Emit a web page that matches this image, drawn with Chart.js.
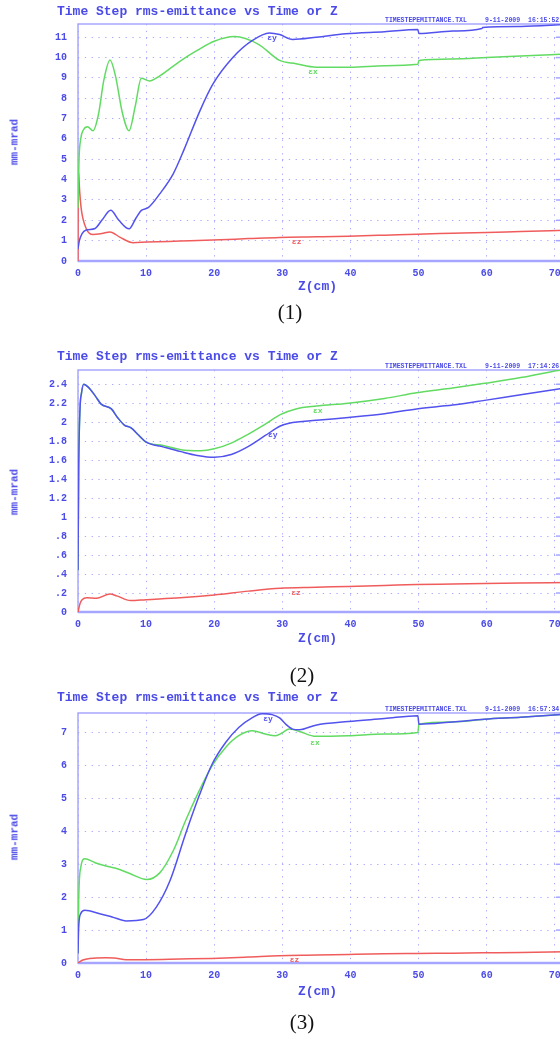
<!DOCTYPE html>
<html>
<head>
<meta charset="utf-8">
<script src="https://cdn.jsdelivr.net/npm/chart.js@4.4.1/dist/chart.umd.min.js"></script>
<style>
  html, body { margin: 0; padding: 0; background: #fff; }
  body { width: 560px; height: 1037px; position: relative; overflow: hidden; }
  .t { position: absolute; white-space: nowrap; line-height: 1;
       font-family: "Liberation Mono", "DejaVu Sans Mono", monospace; font-weight: bold; color: #4b4be8; }
  .cap { position: absolute; white-space: nowrap; line-height: 1;
         font-family: "Liberation Serif", "DejaVu Serif", serif; font-size: 21px; color: #111; }
</style>
</head>
<body>
<script>
// z axis (cm) and tick labels
const zTicks = [0, 10, 20, 30, 40, 50, 60, 70];
const Z_MAX = 71.5;

// ---- figure (1) ----
const yTicks1 = [0, 1, 2, 3, 4, 5, 6, 7, 8, 9, 10, 11];
const epsY1_z = [0, 0.2, 0.6, 1.2, 2.5, 3.5, 4.8, 6, 7.5, 8.5, 9.3, 10.3, 12, 14, 15.6, 17.9, 19.8, 22.7, 25.6, 28.1, 29.6, 31.5, 35, 39.3, 45, 49.9, 50.05, 55, 59.3, 59.4, 65, 71.5];
const epsY1   = [0.6, 1.0, 1.35, 1.52, 1.6, 2.0, 2.49, 2.0, 1.58, 2.1, 2.49, 2.62, 3.3, 4.3, 5.5, 7.38, 8.69, 9.99, 10.84, 11.21, 11.13, 10.89, 11.0, 11.17, 11.27, 11.38, 11.18, 11.3, 11.43, 11.48, 11.53, 11.62];
const epsX1_z = [0, 0.15, 0.4, 0.8, 1.4, 2.2, 3.0, 3.8, 4.7, 5.5, 6.5, 7.5, 8.4, 9.3, 10.5, 12, 15, 17.5, 20, 23, 26.5, 29.6, 32, 35, 40, 45, 49.9, 50.05, 55, 60, 65, 71.5];
const epsX1   = [2.6, 5.0, 6.0, 6.45, 6.6, 6.4, 7.2, 8.9, 9.88, 9.1, 7.3, 6.4, 7.6, 8.98, 8.85, 9.1, 9.83, 10.35, 10.8, 11.03, 10.65, 9.86, 9.7, 9.53, 9.53, 9.6, 9.67, 9.86, 9.93, 10.0, 10.08, 10.17];
const epsZ1_z = [0, 0.05, 0.25, 0.5, 1.2, 2.2, 3.5, 4.7, 6.2, 8.1, 10.1, 15, 19.8, 25, 29.6, 35, 39.7, 45, 49.8, 55, 60, 65, 71.5];
const epsZ1   = [0, 4.45, 3.4, 2.5, 1.6, 1.3, 1.35, 1.43, 1.16, 0.9, 0.93, 0.98, 1.03, 1.1, 1.16, 1.19, 1.22, 1.27, 1.32, 1.36, 1.4, 1.45, 1.51];

// ---- figure (2) ----
const yTicks2 = [0, 0.2, 0.4, 0.6, 0.8, 1, 1.2, 1.4, 1.6, 1.8, 2, 2.2, 2.4];
const epsY2_z = [0, 0.1, 0.3, 0.5, 0.83, 1.5, 2.5, 3.4, 4.9, 5.8, 6.8, 7.8, 8.8, 10, 12.5, 15.1, 17.5, 20, 22.5, 24.9, 27.5, 29.7, 31, 35, 39.7, 45, 49.7, 55, 59.7, 65, 71.5];
const epsY2   = [0.44, 1.5, 2.15, 2.3, 2.4, 2.37, 2.28, 2.19, 2.14, 2.05, 1.97, 1.94, 1.87, 1.79, 1.74, 1.69, 1.65, 1.63, 1.66, 1.74, 1.86, 1.96, 1.99, 2.02, 2.05, 2.09, 2.14, 2.18, 2.23, 2.29, 2.36];
const epsX2_z = [0, 0.1, 0.3, 0.5, 0.83, 1.5, 2.5, 3.4, 4.9, 5.8, 6.8, 7.8, 8.8, 10, 12.5, 15.1, 18, 20, 22.5, 24.9, 27.5, 29.7, 32, 35, 39.7, 45, 49.7, 55, 59.7, 65, 71.5];
const epsX2   = [0.44, 1.5, 2.15, 2.3, 2.4, 2.37, 2.28, 2.19, 2.14, 2.05, 1.97, 1.94, 1.87, 1.79, 1.755, 1.71, 1.70, 1.72, 1.78, 1.87, 1.98, 2.08, 2.14, 2.17, 2.2, 2.25, 2.31, 2.36, 2.41, 2.47, 2.56];
const epsZ2_z = [0, 0.3, 0.6, 1.3, 2.7, 4.7, 5.7, 7.7, 10, 15, 20, 25, 29.7, 35, 39.7, 45, 49.7, 55, 59.7, 65, 71.5];
const epsZ2   = [0, 0.09, 0.13, 0.15, 0.145, 0.19, 0.17, 0.12, 0.13, 0.15, 0.18, 0.22, 0.25, 0.26, 0.27, 0.28, 0.29, 0.295, 0.3, 0.305, 0.31];

// ---- figure (3) ----
const yTicks3 = [0, 1, 2, 3, 4, 5, 6, 7];
const epsY3_z = [0, 0.1, 0.4, 1.0, 3.2, 5, 7.1, 9.6, 11.5, 13.5, 15.8, 17.8, 19.7, 21.7, 23.6, 25.6, 27, 28.5, 29.6, 30.5, 31.5, 32.5, 34.9, 39.7, 45, 49.9, 50.05, 55, 59.7, 65, 71.5];
const epsY3   = [0.29, 1.1, 1.5, 1.6, 1.5, 1.4, 1.28, 1.32, 1.7, 2.5, 3.93, 5.09, 6.05, 6.71, 7.16, 7.46, 7.58, 7.55, 7.45, 7.26, 7.11, 7.09, 7.23, 7.34, 7.43, 7.52, 7.26, 7.33, 7.41, 7.47, 7.56];
const epsX3_z = [0, 0.1, 0.4, 1.0, 2.5, 4.1, 6, 7.6, 10.1, 12, 14, 15.8, 17.8, 19.7, 21.7, 23.6, 25.6, 27.5, 29, 30, 31, 32.5, 34.9, 39.7, 45, 49.9, 50.05, 55, 59.7, 65, 71.5];
const epsX3   = [0.3, 1.9, 2.9, 3.17, 3.05, 2.95, 2.85, 2.72, 2.54, 2.74, 3.42, 4.33, 5.24, 6.0, 6.56, 6.91, 7.06, 6.96, 6.91, 7.0, 7.11, 7.04, 6.89, 6.91, 6.96, 7.01, 7.26, 7.33, 7.41, 7.47, 7.56];
const epsZ3_z = [0, 0.7, 1.7, 4.1, 5.3, 7.1, 10, 15, 19.7, 25, 29.5, 35, 39.7, 45, 49.7, 55, 60, 65, 71.5];
const epsZ3   = [0, 0.09, 0.14, 0.16, 0.15, 0.1, 0.1, 0.12, 0.14, 0.18, 0.22, 0.24, 0.26, 0.28, 0.29, 0.3, 0.31, 0.32, 0.34];

const BLUE = '#5252ee', GREEN = '#62db62', RED = '#f05c5c';
const TXT = '#4b4be8', GRID = '#a8a8ff', AXIS = '#a6a6ff';
const MONO = '"Liberation Mono", "DejaVu Sans Mono", monospace';

const panels = [
  { plotTop: 24, plotBottom: 261, yMax: 11.65, yTicks: yTicks1, title: 12, stamp: '16:15:52', ylab: 142, zlab: 287, cap: '(1)', capX: 290, capY: 312,
    series: [[epsY1_z, epsY1, BLUE], [epsX1_z, epsX1, GREEN], [epsZ1_z, epsZ1, RED]],
    labels: [[28.5, 10.96, 'εy', BLUE], [34.5, 9.3, 'εx', GREEN], [32.1, 0.93, 'εz', RED]] },
  { plotTop: 370, plotBottom: 612, yMax: 2.55, yTicks: yTicks2, title: 357, stamp: '17:14:26', ylab: 492, zlab: 639, cap: '(2)', capX: 302, capY: 675,
    series: [[epsY2_z, epsY2, BLUE], [epsX2_z, epsX2, GREEN], [epsZ2_z, epsZ2, RED]],
    labels: [[28.6, 1.86, 'εy', BLUE], [35.2, 2.12, 'εx', GREEN], [32, 0.2, 'εz', RED]] },
  { plotTop: 713, plotBottom: 963, yMax: 7.6, yTicks: yTicks3, title: 698, stamp: '16:57:34', ylab: 837, zlab: 992, cap: '(3)', capX: 302, capY: 1022,
    series: [[epsY3_z, epsY3, BLUE], [epsX3_z, epsX3, GREEN], [epsZ3_z, epsZ3, RED]],
    labels: [[27.9, 7.42, 'εy', BLUE], [34.8, 6.7, 'εx', GREEN], [31.8, 0.09, 'εz', RED]] }
];

function addText(cls, text, css) {
  const d = document.createElement('div');
  d.className = cls;
  d.textContent = text;
  d.style.cssText = css;
  document.body.appendChild(d);
}

// frame round the plot + short ticks on right side
const frame = {
  id: 'frame',
  beforeDatasetsDraw(chart) {
    const { ctx, chartArea: a, scales } = chart;
    ctx.save();
    ctx.strokeStyle = AXIS;
    ctx.lineWidth = 1.5;
    ctx.strokeRect(a.left, a.top, a.right - a.left, a.bottom - a.top);
    ctx.lineWidth = 2.5;
    ctx.beginPath(); ctx.moveTo(a.left, a.bottom); ctx.lineTo(a.right, a.bottom); ctx.stroke();
    ctx.lineWidth = 1.5;
    scales.y.ticks.forEach(t => {
      const y = scales.y.getPixelForValue(t.value);
      ctx.beginPath(); ctx.moveTo(a.right - 9, y); ctx.lineTo(a.right, y); ctx.stroke();
    });
    ctx.restore();
  }
};

// small curve names
const curveLabels = {
  id: 'curveLabels',
  afterDatasetsDraw(chart, args, opts) {
    const { ctx, scales } = chart;
    ctx.save();
    ctx.font = 'bold 8px ' + MONO;
    ctx.textAlign = 'center';
    ctx.textBaseline = 'middle';
    opts.items.forEach(([z, v, text, color]) => {
      ctx.fillStyle = color;
      ctx.fillText(text, scales.x.getPixelForValue(z), scales.y.getPixelForValue(v));
    });
    ctx.restore();
  }
};

panels.forEach(p => {
  const cv = document.createElement('canvas');
  const top = p.plotTop - 30;
  cv.width = 600;
  cv.height = p.plotBottom - p.plotTop + 70;
  cv.style.cssText = `position:absolute;left:0;top:${top}px;`;
  document.body.appendChild(cv);

  new Chart(cv, {
    type: 'line',
    data: {
      datasets: p.series.map(([zs, vs, color]) => ({
        data: zs.map((z, i) => ({ x: z, y: vs[i] })),
        borderColor: color,
        borderWidth: 1.5,
        pointRadius: 0,
        fill: false,
        cubicInterpolationMode: 'monotone'
      }))
    },
    options: {
      responsive: false,
      animation: false,
      events: [],
      layout: { padding: { top: 30, bottom: 20, left: 0, right: 35 } },
      plugins: {
        legend: { display: false },
        tooltip: { enabled: false },
        curveLabels: { items: p.labels }
      },
      scales: {
        x: {
          type: 'linear', min: 0, max: Z_MAX,
          afterBuildTicks: s => { s.ticks = zTicks.map(v => ({ value: v })); },
          afterFit: s => { s.height = 20; },
          grid: { color: GRID, lineWidth: 1, drawTicks: false },
          border: { display: false, dash: [1.3, 5.5] },
          ticks: { color: TXT, font: { family: MONO, size: 10, weight: 'bold' }, padding: 6, maxRotation: 0, autoSkip: false }
        },
        y: {
          type: 'linear', min: 0, max: p.yMax,
          afterBuildTicks: s => { s.ticks = p.yTicks.map(v => ({ value: v })); },
          afterFit: s => { s.width = 78; },
          grid: { color: GRID, lineWidth: 1, drawTicks: false },
          border: { display: false, dash: [1.3, 5.5] },
          ticks: {
            color: TXT, font: { family: MONO, size: 10, weight: 'bold' }, padding: 11, autoSkip: false,
            callback: v => String(v).replace(/^0\./, '.')
          }
        }
      }
    },
    plugins: [frame, curveLabels]
  });

  addText('t', 'Time Step rms-emittance vs Time or Z', `left:57px;top:${p.title - 7}px;font-size:13px;`);
  addText('t', 'TIMESTEPEMITTANCE.TXL', `left:385px;top:${p.plotTop - 6}px;font-size:6.5px;`);
  addText('t', '9-11-2009', `left:485px;top:${p.plotTop - 6}px;font-size:6.5px;`);
  addText('t', p.stamp, `left:528px;top:${p.plotTop - 6}px;font-size:6.5px;`);
  addText('t', 'mm-mrad', `left:15px;top:${p.ylab}px;font-size:11px;transform:translate(-50%,-50%) rotate(-90deg);`);
  addText('t', 'Z(cm)', `left:298px;top:${p.zlab - 7}px;font-size:13px;`);
  addText('cap', p.cap, `left:${p.capX}px;top:${p.capY}px;transform:translate(-50%,-50%);`);
});
</script>
</body>
</html>
